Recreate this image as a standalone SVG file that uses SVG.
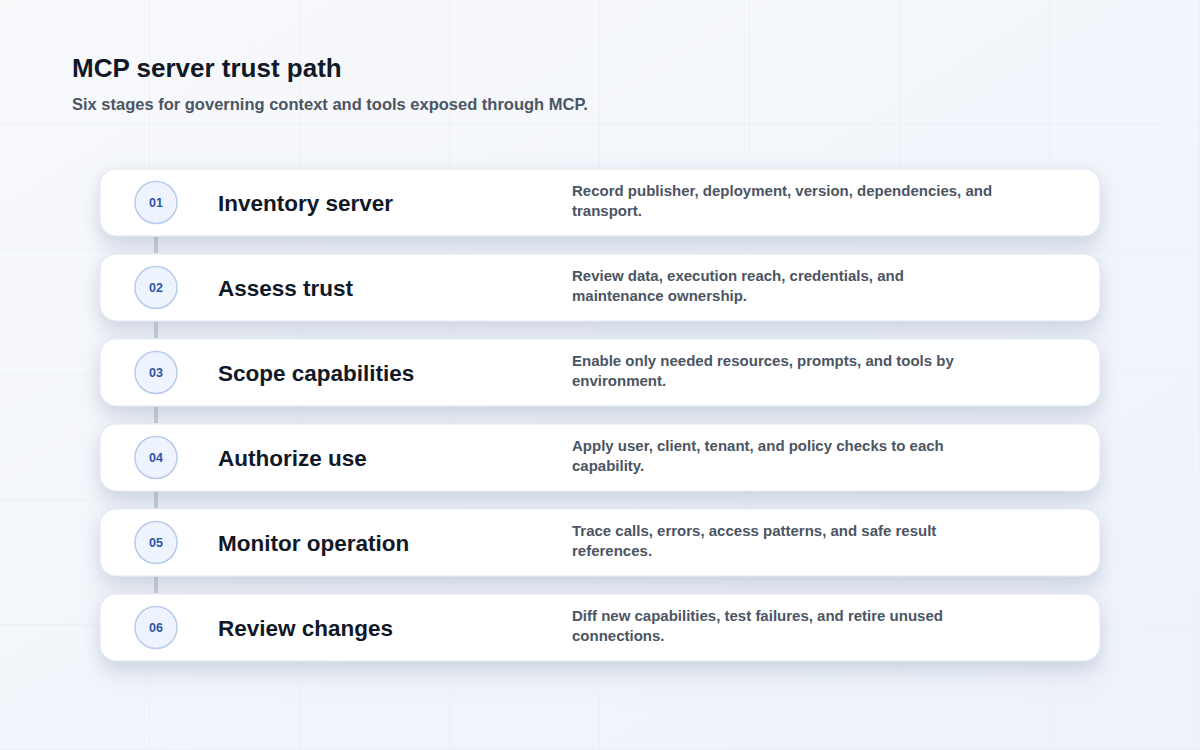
<svg xmlns="http://www.w3.org/2000/svg" width="1200" height="750" viewBox="0 0 1200 750">
<defs>
<linearGradient id="bg" x1="0" y1="0" x2="1" y2="1">
<stop offset="0" stop-color="#f8f9fb"/>
<stop offset="1" stop-color="#edf2fb"/>
</linearGradient>
<pattern id="grid" width="150" height="125" patternUnits="userSpaceOnUse">
<path d="M150 0V125M0 125H150" fill="none" stroke="#e6eaf1" stroke-width="1"/>
</pattern>
<filter id="sh" x="-10%" y="-40%" width="120%" height="200%">
<feDropShadow dx="0" dy="8" stdDeviation="9" flood-color="#9aa6bf" flood-opacity="0.38"/>
</filter>
<filter id="panel" x="-10%" y="-10%" width="120%" height="120%">
<feGaussianBlur stdDeviation="12"/>
</filter>
</defs>
<style>
.t{font-family:"Liberation Sans",Arial,sans-serif;font-weight:700}
.h1{font-size:26px;fill:#111827}
.sub{font-size:16.5px;fill:#4b5563}
.card{fill:#ffffff;stroke:#e3e7ef;stroke-width:1}
.dot{fill:#eef4ff;stroke:#b7cbeb;stroke-width:1.5}
.num{font-size:12.5px;fill:#2f55a4;text-anchor:middle}
.name{font-size:22.5px;fill:#111827}
.desc{font-size:15px;fill:#4b5563}
.conn{stroke:#c3c8d1;stroke-width:4}
</style>
<rect width="1200" height="750" fill="url(#bg)"/>
<rect width="1200" height="750" fill="url(#grid)"/>
<rect x="100" y="170" width="1000" height="518" rx="16" fill="#e4e8f1" opacity="0.45" filter="url(#panel)"/>
<text class="t h1" x="72" y="77">MCP server trust path</text>
<text class="t sub" x="72" y="110">Six stages for governing context and tools exposed through MCP.</text>
<g id="connectors">
<line class="conn" x1="156" y1="237" x2="156" y2="253"/>
<line class="conn" x1="156" y1="322" x2="156" y2="338"/>
<line class="conn" x1="156" y1="407" x2="156" y2="423"/>
<line class="conn" x1="156" y1="492" x2="156" y2="508"/>
<line class="conn" x1="156" y1="577" x2="156" y2="593"/>
</g>
<g id="stage1">
<rect class="card" x="100" y="169" width="1000" height="67" rx="16" filter="url(#sh)"/>
<circle class="dot" cx="156" cy="202.5" r="21"/>
<text class="t num" x="156" y="207">01</text>
<text class="t name" x="218" y="211">Inventory server</text>
<text class="t desc" x="572" y="196">Record publisher, deployment, version, dependencies, and</text>
<text class="t desc" x="572" y="216">transport.</text>
</g>
<g id="stage2">
<rect class="card" x="100" y="254" width="1000" height="67" rx="16" filter="url(#sh)"/>
<circle class="dot" cx="156" cy="287.5" r="21"/>
<text class="t num" x="156" y="292">02</text>
<text class="t name" x="218" y="296">Assess trust</text>
<text class="t desc" x="572" y="281">Review data, execution reach, credentials, and</text>
<text class="t desc" x="572" y="301">maintenance ownership.</text>
</g>
<g id="stage3">
<rect class="card" x="100" y="339" width="1000" height="67" rx="16" filter="url(#sh)"/>
<circle class="dot" cx="156" cy="372.5" r="21"/>
<text class="t num" x="156" y="377">03</text>
<text class="t name" x="218" y="381">Scope capabilities</text>
<text class="t desc" x="572" y="366">Enable only needed resources, prompts, and tools by</text>
<text class="t desc" x="572" y="386">environment.</text>
</g>
<g id="stage4">
<rect class="card" x="100" y="424" width="1000" height="67" rx="16" filter="url(#sh)"/>
<circle class="dot" cx="156" cy="457.5" r="21"/>
<text class="t num" x="156" y="462">04</text>
<text class="t name" x="218" y="466">Authorize use</text>
<text class="t desc" x="572" y="451">Apply user, client, tenant, and policy checks to each</text>
<text class="t desc" x="572" y="471">capability.</text>
</g>
<g id="stage5">
<rect class="card" x="100" y="509" width="1000" height="67" rx="16" filter="url(#sh)"/>
<circle class="dot" cx="156" cy="542.5" r="21"/>
<text class="t num" x="156" y="547">05</text>
<text class="t name" x="218" y="551">Monitor operation</text>
<text class="t desc" x="572" y="536">Trace calls, errors, access patterns, and safe result</text>
<text class="t desc" x="572" y="556">references.</text>
</g>
<g id="stage6">
<rect class="card" x="100" y="594" width="1000" height="67" rx="16" filter="url(#sh)"/>
<circle class="dot" cx="156" cy="627.5" r="21"/>
<text class="t num" x="156" y="632">06</text>
<text class="t name" x="218" y="636">Review changes</text>
<text class="t desc" x="572" y="621">Diff new capabilities, test failures, and retire unused</text>
<text class="t desc" x="572" y="641">connections.</text>
</g>
</svg>
